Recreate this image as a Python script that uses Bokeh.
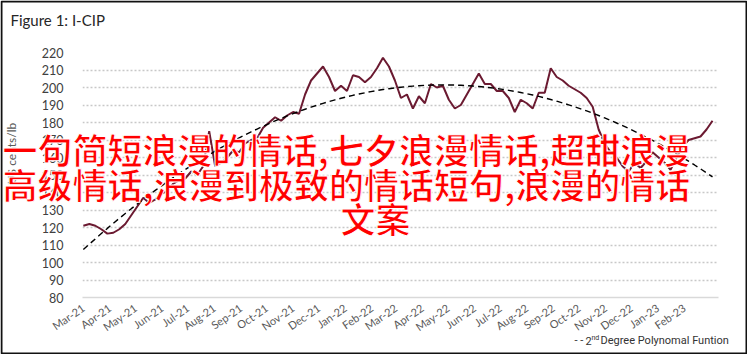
import numpy as np
import pandas as pd
from bokeh.plotting import figure
from bokeh.models import FixedTicker, Label, Range1d
from bokeh.embed import file_html
from bokeh.resources import INLINE

# ---------------- data ----------------
start_date = "2021-03-01"
prices = [
    121, 122, 121, 119, 116.5, 117, 119, 122, 127, 132,
    137, 134, 136, 139, 141, 145, 147, 148, 152, 150,
    155, 175, 155, 157, 160, 164, 163, 168, 170, 171,
    177, 180, 183, 181, 184, 186, 185, 196, 204, 208,
    212, 206, 198, 201, 198, 207, 206, 203, 206, 211,
    217, 212, 204, 194, 196, 188, 195, 191, 202, 200,
    201, 193, 188, 190, 196, 202, 208, 202, 202, 198,
    198, 194, 186, 193, 191, 188, 197, 197, 211, 206,
    204, 201, 199, 197, 194, 189, 176, 168, 163, 160,
    155, 152, 157, 154, 158, 163, 160, 157, 153, 160,
    166, 170, 171, 172, 176, 181,
]
tick_labels = [
    "Mar-21", "Apr-21", "May-21", "Jun-21", "Jul-21", "Aug-21", "Sep-21",
    "Oct-21", "Nov-21", "Dec-21", "Jan-22", "Feb-22", "Mar-22", "Apr-22",
    "May-22", "Jun-22", "Jul-22", "Aug-22", "Sep-22", "Oct-22", "Nov-22",
    "Dec-22", "Jan-23", "Feb-23",
]
y_ticks = [80, 90, 100, 110, 120, 130, 140, 150, 160, 170, 180, 190, 200, 210, 220]
title_text = "Figure 1: I-CIP"
y_label = "US cents/lb"
legend_parts = ["- -", "2", "nd", "Degree Polynomal Funtion"]
overlay_lines = [
    "一句简短浪漫的情话,七夕浪漫情话,超甜浪漫",
    "高级情话,浪漫到极致的情话短句,浪漫的情话",
    "文案",
]

W, H = 747, 354

dates = pd.date_range(start_date, periods=len(prices), freq="7D")
tick_dates = pd.date_range(start_date, periods=len(tick_labels), freq="MS")
tick_ms = [int(d.value // 10**6) for d in tick_dates]

# 2nd degree polynomial trend fitted to the series
days = np.array((dates - dates[0]).days, dtype=float)
coef = np.polyfit(days, np.array(prices, dtype=float), 2)
trend = np.polyval(coef, days)

# ---------------- main chart ----------------
p = figure(
    width=W, height=H,
    x_axis_type="datetime",
    x_range=Range1d(pd.Timestamp("2021-02-28"), pd.Timestamp("2023-03-13")),
    y_range=Range1d(80, 220),
    output_backend="svg", toolbar_location=None,
    min_border_left=82, min_border_right=29,
    min_border_top=52, min_border_bottom=57,
)
p.background_fill_color = "white"
p.border_fill_color = "white"
p.outline_line_color = None

p.line(dates, prices, line_color="#6b1a31", line_width=2)
p.line(dates, trend, line_color="black", line_width=1.4, line_dash="6 4")

p.xaxis.ticker = FixedTicker(ticks=tick_ms)
p.xaxis.major_label_overrides = {ms: lbl for ms, lbl in zip(tick_ms, tick_labels)}
p.xaxis.major_label_orientation = 0.6
p.xaxis.major_label_text_font = "Lato"
p.xaxis.major_label_text_font_size = "11px"
p.xaxis.major_label_text_color = "#595959"
p.xaxis.axis_line_color = "#d9d9d9"
p.xaxis.axis_line_width = 1.5
p.xaxis.major_tick_line_color = None
p.xaxis.minor_tick_line_color = None
p.xaxis.major_label_standoff = 3

p.yaxis.ticker = FixedTicker(ticks=y_ticks)
p.yaxis.axis_line_color = None
p.yaxis.major_tick_line_color = None
p.yaxis.minor_tick_line_color = None
p.yaxis.major_label_text_font = "Lato"
p.yaxis.major_label_text_font_size = "12.5px"
p.yaxis.major_label_text_color = "#404040"
p.yaxis.major_label_standoff = 13

p.xgrid.grid_line_color = None
p.ygrid.ticker = FixedTicker(ticks=y_ticks)
p.ygrid.grid_line_color = "#c8c8c8"
p.ygrid.grid_line_width = 1.5
p.ygrid.grid_line_dash = "2 2"

# ---------------- overlay canvas (title, axis title, legend, red text, frame) ----------------
q = figure(
    width=W, height=H,
    x_range=Range1d(0, W), y_range=Range1d(H, 0),
    output_backend="svg", toolbar_location=None,
    x_axis_location=None, y_axis_location=None,
    min_border=0,
)
q.background_fill_alpha = 0
q.border_fill_alpha = 0
q.outline_line_color = None
q.xgrid.grid_line_color = None
q.ygrid.grid_line_color = None
q.styles = {"position": "absolute", "top": "0px", "left": "0px"}
q.rect(x=[W / 2], y=[H / 2], width=[W - 2], height=[H - 2],
       fill_alpha=0, line_color="#111111", line_width=2)

q.add_layout(Label(x=10, y=19, text=title_text, text_font="Lato", text_font_size="15px",
                   text_color="#262626", text_baseline="middle", text_align="left"))

q.add_layout(Label(x=11, y=153, text=y_label, angle=np.pi / 2, text_font="Lato",
                   text_font_size="12px", text_color="#595959",
                   text_baseline="middle", text_align="center"))

q.add_layout(Label(x=574, y=340, text=legend_parts[0], text_font="Roboto", text_font_size="11px",
                   text_color="#333333", text_baseline="middle"))
q.add_layout(Label(x=585, y=340, text=legend_parts[1], text_font="Roboto", text_font_size="11px",
                   text_color="#333333", text_baseline="middle"))
q.add_layout(Label(x=591, y=337, text=legend_parts[2], text_font="Roboto", text_font_size="7px",
                   text_color="#333333", text_baseline="middle"))
q.add_layout(Label(x=600, y=340, text=legend_parts[3], text_font="Roboto", text_font_size="11px",
                   text_color="#333333", text_baseline="middle"))

positions = [(2, 148, "left"), (2, 183, "left"), (375, 217, "center")]
for txt, (tx, ty, al) in zip(overlay_lines, positions):
    kw = dict(x=tx, y=ty, text=txt,
              text_font="Noto Sans CJK SC", text_font_style="bold", text_font_size="35px",
              text_color="#ff0000", text_baseline="middle", text_align=al)
    try:
        lab = Label(text_outline_color="white", **kw)
    except Exception:
        lab = Label(**kw)
    q.add_layout(lab)

open("out.html", "w").write(file_html([p, q], INLINE))
